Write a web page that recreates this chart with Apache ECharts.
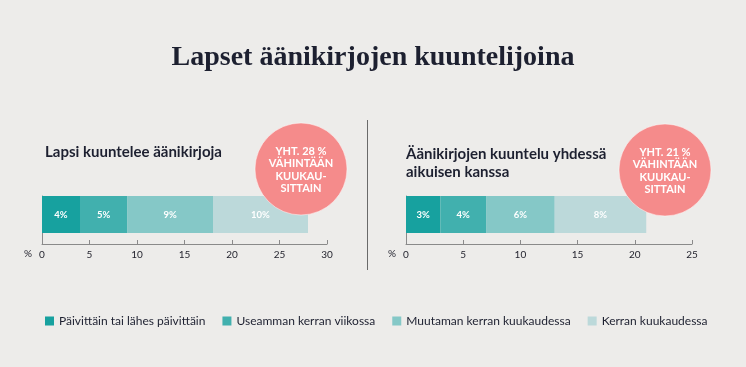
<!DOCTYPE html>
<html><head><meta charset="utf-8">
<script src="https://cdn.jsdelivr.net/npm/echarts@6/dist/echarts.min.js"></script>
<style>html,body{margin:0;padding:0;background:#edecea;}#c{width:746px;height:367px;}</style>
</head><body><div id="c"></div>
<script>
const categories = ['Päivittäin tai lähes päivittäin', 'Useamman kerran viikossa', 'Muutaman kerran kuukaudessa', 'Kerran kuukaudessa'];
const childListens = [4, 5, 9, 10];
const withAdult = [3, 4, 6, 8];
const leftMax = 30;
const rightMax = 25;
const tickStep = 5;
const colors = ['#17a19f', '#41b0ae', '#85c8c7', '#bcd9da'];
const titleText = 'Lapset äänikirjojen kuuntelijoina';
const leftTitle = 'Lapsi kuuntelee äänikirjoja';
const rightTitle = 'Äänikirjojen kuuntelu yhdessä\naikuisen kanssa';
const leftBadge = 'YHT. 28 %\nVÄHINTÄÄN\nKUUKAU-\nSITTAIN';
const rightBadge = 'YHT. 21 %\nVÄHINTÄÄN\nKUUKAU-\nSITTAIN';

const sans = 'Lato, "Open Sans", sans-serif';
const chart = echarts.init(document.getElementById('c'));

const grids = [
  {left: 42, width: 285, top: 196, height: 37},
  {left: 406, width: 286, top: 196, height: 37},
  {left: 42, width: 285, top: 196, height: 48},
  {left: 406, width: 286, top: 196, height: 48}
];
function barX(i, max){ return {gridIndex: i, type: 'value', min: 0, max: max, show: false}; }
function axisX(i, max){
  return {gridIndex: i, type: 'value', min: 0, max: max, interval: tickStep,
    axisLine: {show: true, lineStyle: {color: '#8a8a8a', width: 1}},
    axisTick: {show: true, inside: true, length: 4, lineStyle: {color: '#8a8a8a'}},
    axisLabel: {color: '#1f1f2a', fontSize: 10, fontFamily: sans, margin: 6},
    splitLine: {show: false},
    name: '%', nameLocation: 'start', nameGap: 10,
    nameTextStyle: {color: '#1f1f2a', fontSize: 10, fontFamily: sans, verticalAlign: 'top', align: 'right', padding: [5, 0, 0, 0]}
  };
}
function yCat(i, showLine){
  return {gridIndex: i, type: 'category', data: [''], show: showLine,
    axisLine: {show: showLine, lineStyle: {color: '#8a8a8a'}}, axisTick: {show: false}, axisLabel: {show: false}};
}
function makeSeries(values, idx){
  return values.map((v, k) => ({
    name: categories[k], type: 'bar', stack: 's' + idx, xAxisIndex: idx, yAxisIndex: idx,
    barWidth: '100%', data: [v], itemStyle: {color: colors[k]},
    label: {show: true, position: 'inside', formatter: p => p.value + '%', color: '#ffffff', fontSize: 9.5, fontWeight: 'bold', fontFamily: sans},
    emphasis: {disabled: true}
  }));
}
function badge(cx, cy, txt){
  return [
    {type: 'circle', z: 20, shape: {cx: cx, cy: cy, r: 46}, style: {fill: '#f58b8b', stroke: 'rgba(255,255,255,0.5)', lineWidth: 1}},
    {type: 'text', z: 21, x: cx, y: cy + 1, style: {text: txt, fill: '#ffffff', fontSize: 11, fontWeight: 'bold', fontFamily: sans, align: 'center', verticalAlign: 'middle', lineHeight: 12.5}}
  ];
}

chart.setOption({
  backgroundColor: '#edecea',
  animation: false,
  title: [
    {text: titleText, left: 'center', top: 39, textStyle: {fontFamily: '"Liberation Serif", serif', fontWeight: 'bold', fontSize: 28, color: '#1d2030'}},
    {text: leftTitle, left: 40, top: 140, textStyle: {fontFamily: sans, fontWeight: 'bold', fontSize: 15, color: '#1d2030'}},
    {text: rightTitle, left: 401, top: 140, textStyle: {fontFamily: sans, fontWeight: 'bold', fontSize: 15, color: '#1d2030', lineHeight: 18}}
  ],
  legend: {
    data: categories, left: 45, top: 315, itemWidth: 9, itemHeight: 9, itemGap: 17, icon: 'rect', padding: 0,
    textStyle: {fontFamily: sans, fontSize: 12, color: '#1d2030'}, selectedMode: false
  },
  grid: grids,
  xAxis: [barX(0, leftMax), barX(1, rightMax), axisX(2, leftMax), axisX(3, rightMax)],
  yAxis: [yCat(0, false), yCat(1, false), yCat(2, true), yCat(3, true)],
  series: [...makeSeries(childListens, 0), ...makeSeries(withAdult, 1)],
  graphic: [
    {type: 'line', z: 5, shape: {x1: 367.5, y1: 120, x2: 367.5, y2: 270}, style: {stroke: '#6a6a6a', lineWidth: 1}},
    ...badge(301, 169, leftBadge),
    ...badge(665, 170, rightBadge)
  ]
});
</script></body></html>
